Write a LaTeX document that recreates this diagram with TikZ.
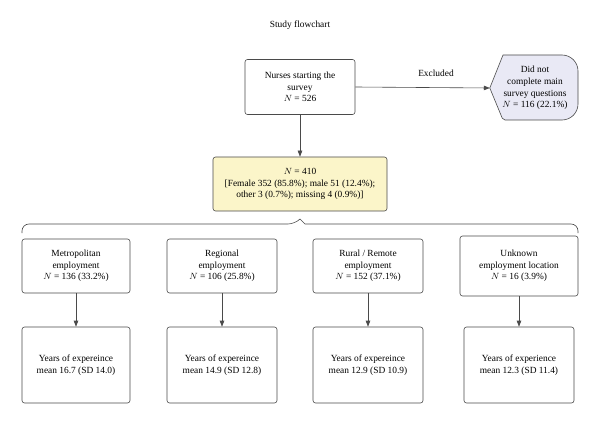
\documentclass[tikz,border=0pt]{standalone}
\usepackage{fontspec}
\setmainfont{Liberation Serif}
\usetikzlibrary{arrows.meta,backgrounds}

\definecolor{lineGray}{HTML}{4A4A4A}
\definecolor{boxYellow}{HTML}{FBF5C9}
\definecolor{boxLilac}{HTML}{E9E9F5}

\begin{document}
\begin{tikzpicture}[x=1pt,y=-1pt,
    font=\fontsize{9.4}{11.6}\selectfont,
    box/.style={draw=lineGray, line width=0.6pt, rounded corners=2.5pt, align=center, inner sep=2pt},
    link/.style={draw=lineGray, line width=0.6pt, -{Triangle[length=6pt,width=4.5pt]}}]
  \useasboundingbox (0,0) rectangle (600,425);

  \node (title) at (300,25) {Study flowchart};

  % top of the flow
  \node[box, minimum width=110pt, minimum height=55pt] (start) at (300,87)
    {Nurses starting the\\survey\\$N$ = 526};
  \node[align=center, minimum width=90pt, minimum height=65pt] (excl) at (535,88)
    {Did not\\complete main\\survey questions\\$N$ = 116 (22.1\%)};
  \begin{scope}[on background layer]
    \draw[lineGray, line width=0.6pt, fill=boxLilac, rounded corners=16pt]
      (excl.west) [sharp corners] -- (503,55) [rounded corners=16pt] -- (578,55)
      -- (578,120) [rounded corners=2pt] -- (503,120) [sharp corners] -- cycle;
  \end{scope}
  \node (exlab) at (436,73) {Excluded};
  \draw[link] (start.east) -- (excl.west);

  \node[box, fill=boxYellow, minimum width=174pt, minimum height=54pt] (total) at (300,184)
    {$N$ = 410\\{}[Female 352 (85.8\%); male 51 (12.4\%);\\other 3 (0.7\%); missing 4 (0.9\%)]};
  \draw[link] (start.south) -- (total.north);

  % brace over the four groups
  \draw[lineGray, line width=0.6pt, rounded corners=7pt]
    (22,233) -- (22,224) -- (295,224) [sharp corners] -- (300,219) -- (305,224)
    [rounded corners=7pt] -- (578,224) -- (578,233);

  % locations
  \node[box, minimum width=108pt, minimum height=54pt] (loc1) at (76,266)
    {Metropolitan\\employment\\$N$ = 136 (33.2\%)};
  \node[box, minimum width=110pt, minimum height=54pt] (loc2) at (222,266)
    {Regional\\employment\\$N$ = 106 (25.8\%)};
  \node[box, minimum width=110pt, minimum height=54pt] (loc3) at (368,266)
    {Rural / Remote\\employment\\$N$ = 152 (37.1\%)};
  \node[box, minimum width=118pt, minimum height=60pt] (loc4) at (519,266)
    {Unknown\\employment location\\$N$ = 16 (3.9\%)};

  % years of experience
  \foreach \i/\cx/\bw/\txt in {1/76/108/{Years of expereince\\mean 16.7 (SD 14.0)},
                               2/222/110/{Years of expereince\\mean 14.9 (SD 12.8)},
                               3/368/110/{Years of expereince\\mean 12.9 (SD 10.9)},
                               4/519/110/{Years of experience\\mean 12.3 (SD 11.4)}} {
    \node[box, minimum width=\bw pt, minimum height=76pt] (yrs\i) at (\cx,365) {\txt};
    \draw[link] (loc\i.south) -- (yrs\i.north);
  }
\end{tikzpicture}
\end{document}
